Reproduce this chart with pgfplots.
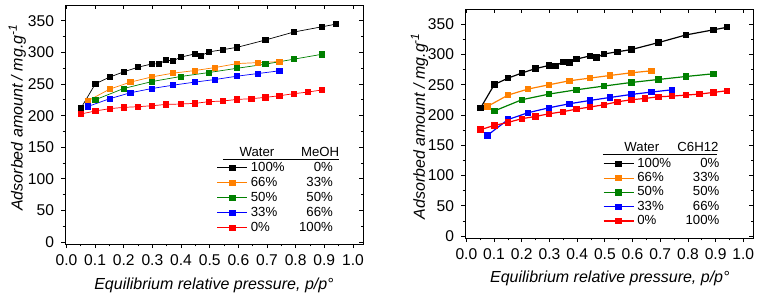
\documentclass[border=0pt]{standalone}
\usepackage{fontspec}
\setmainfont{Liberation Sans}
\usepackage{pgfplots}
\pgfplotsset{compat=1.18}
\definecolor{cblack}{RGB}{0,0,0}
\definecolor{corange}{RGB}{255,128,0}
\definecolor{cgreen}{RGB}{0,128,0}
\definecolor{cblue}{RGB}{0,0,255}
\definecolor{cred}{RGB}{255,0,0}
\pgfplotsset{
  base/.style={scale only axis, xmin=-0.005, xmax=1.035, ymin=-3, ymax=375,
    xtick={0,0.1,0.2,0.3,0.4,0.5,0.6,0.7,0.8,0.9,1.0},
    ytick={0,50,100,150,200,250,300,350},
    major tick length=2pt, minor tick length=1.2pt,
    tick style={line width=0.4pt, black},
    axis line style={line width=0.5pt}},
  main/.style={base, minor x tick num=1, minor y tick num=1,
    tick align=outside, xtick pos=left, ytick pos=left,
    ticklabel style={font=\fontsize{7.8}{9}\selectfont},
    /pgf/number format/assume math mode=true,
    xticklabel style={/pgf/number format/.cd, fixed, fixed zerofill, precision=1},
    label style={font=\fontsize{8}{9}\selectfont\itshape},
    legend style={draw=none, fill=none, inner sep=0pt, outer sep=0pt, row sep=0.6pt,
      font=\fontsize{6.6}{7}\selectfont,
      nodes={inner sep=0.4pt, text height=4.8pt, text depth=1.3pt},
      /tikz/every odd column/.append style={column sep=1.2pt}},
    legend cell align=left,
    legend image code/.code={\draw[mark repeat=2,mark phase=2] plot coordinates {(0pt,0pt)(7.5pt,0pt)(15pt,0pt)};}},
  mirror/.style={base, minor x tick num=0, minor y tick num=1,
    tick align=inside, xtick pos=right, ytick pos=right,
    xticklabels={}, yticklabels={}},
  s/.style={mark=square*, mark size=1.3pt, color=#1, mark options={solid, fill=#1, draw=#1}},
}
\newcommand{\ent}[2]{\makebox[19pt][l]{#1}\makebox[22pt][r]{#2}}
\begin{document}
\begin{tikzpicture}
\useasboundingbox (0,0) rectangle (380.5pt,148.5pt);
% ---------- left panel ----------
\begin{axis}[main, at={(32.5pt,26.5pt)}, anchor=south west, width=149pt, height=119.5pt,
  xlabel={Equilibrium relative pressure, p/p°},
  ylabel={Adsorbed amount / mg.g\textsuperscript{-1}},
  xlabel style={at={(axis description cs:0.5,-0.172)}, anchor=center},
  ylabel style={at={(axis description cs:-0.16,0.53)}, anchor=center},
  legend style={at={(axis description cs:0.51,0.348)}, anchor=north west},
  every axis plot/.append style={line width=0.35pt}]
\addplot[s=cblack] coordinates {(0.051,212.2)(0.101,250.4)(0.151,261.0)(0.200,269.3)(0.250,276.7)(0.299,281.9)(0.322,281.9)(0.348,287.7)(0.372,286.6)(0.398,292.4)(0.447,297.6)(0.470,295.0)(0.497,300.8)(0.546,304.4)(0.596,308.1)(0.694,319.6)(0.793,332.2)(0.892,340.6)(0.941,344.8)};
\addlegendentry{\ent{100\%}{0\%}}
\addplot[s=corange] coordinates {(0.076,223.7)(0.151,242.0)(0.223,253.0)(0.299,261.4)(0.372,267.2)(0.447,271.3)(0.519,276.1)(0.596,282.4)(0.668,283.9)(0.743,285.5)};
\addlegendentry{\ent{66\%}{33\%}}
\addplot[s=cgreen] coordinates {(0.101,225.2)(0.200,243.0)(0.299,254.0)(0.398,261.9)(0.497,268.2)(0.596,275.0)(0.694,281.4)(0.793,289.3)(0.892,297.1)};
\addlegendentry{\ent{50\%}{50\%}}
\addplot[s=cblue] coordinates {(0.076,214.7)(0.151,226.8)(0.223,236.2)(0.299,243.0)(0.372,248.2)(0.447,253.0)(0.519,257.2)(0.596,262.5)(0.668,266.6)(0.743,270.9)};
\addlegendentry{\ent{33\%}{66\%}}
\addplot[s=cred] coordinates {(0.051,202.7)(0.101,207.4)(0.151,211.1)(0.200,213.1)(0.250,214.2)(0.299,215.7)(0.348,217.8)(0.398,218.4)(0.447,219.4)(0.497,222.1)(0.546,223.2)(0.596,225.7)(0.645,226.8)(0.694,228.9)(0.743,231.5)(0.793,234.7)(0.842,237.3)(0.892,240.7)};
\addlegendentry{\ent{0\%}{100\%}}
\node[font=\fontsize{6.6}{7}\selectfont] at (axis description cs:0.644,0.386) {Water};
\node[font=\fontsize{6.6}{7}\selectfont] at (axis description cs:0.856,0.386) {MeOH};
\draw[line width=0.4pt] (axis description cs:0.53,0.356) -- (axis description cs:0.919,0.356);
\end{axis}
\begin{axis}[mirror, at={(32.5pt,26.5pt)}, anchor=south west, width=149pt, height=119.5pt]
\end{axis}
% ---------- right panel ----------
\begin{axis}[main, at={(232.5pt,29.5pt)}, anchor=south west, width=144pt, height=114.5pt,
  xlabel={Equilibrium relative pressure, p/p°},
  ylabel={Adsorbed amount / mg.g\textsuperscript{-1}},
  xlabel style={at={(axis description cs:0.503,-0.178)}, anchor=center},
  ylabel style={at={(axis description cs:-0.158,0.49)}, anchor=center},
  legend style={at={(axis description cs:0.479,0.354)}, anchor=north west, row sep=0.25pt},
  every axis plot/.append style={line width=0.6pt}]
\addplot[s=cblack] coordinates {(0.051,211.5)(0.101,250.4)(0.151,261.0)(0.200,269.3)(0.250,276.7)(0.299,281.9)(0.322,281.0)(0.348,287.7)(0.372,286.6)(0.398,292.4)(0.447,297.6)(0.470,295.0)(0.497,300.8)(0.546,304.4)(0.596,308.1)(0.694,319.6)(0.793,332.2)(0.892,340.6)(0.941,344.8)};
\addlegendentry{\ent{100\%}{0\%}}
\addplot[s=corange] coordinates {(0.076,214.2)(0.151,233.0)(0.223,242.9)(0.299,250.0)(0.372,256.5)(0.447,261.0)(0.519,265.3)(0.596,269.7)(0.668,273.0)};
\addlegendentry{\ent{66\%}{33\%}}
\addplot[s=cgreen] coordinates {(0.101,206.7)(0.200,225.2)(0.299,234.6)(0.398,241.7)(0.497,247.8)(0.596,253.8)(0.694,258.7)(0.793,263.6)(0.892,268.1)};
\addlegendentry{\ent{50\%}{50\%}}
\addplot[s=cblue] coordinates {(0.076,166.5)(0.151,192.7)(0.223,203.8)(0.299,212.0)(0.372,218.6)(0.447,224.1)(0.519,229.0)(0.596,234.0)(0.668,237.9)(0.743,241.7)};
\addlegendentry{\ent{33\%}{66\%}}
\addplot[s=cred] coordinates {(0.051,175.8)(0.101,182.9)(0.151,187.9)(0.200,193.9)(0.250,197.7)(0.299,202.1)(0.348,205.4)(0.398,209.8)(0.447,213.2)(0.497,217.0)(0.546,221.9)(0.596,225.2)(0.645,227.4)(0.694,230.1)(0.743,231.2)(0.793,232.9)(0.842,234.6)(0.892,237.3)(0.941,240.1)};
\addlegendentry{\ent{0\%}{100\%}}
\node[font=\fontsize{6.6}{7}\selectfont] at (axis description cs:0.614,0.399) {Water};
\node[font=\fontsize{6.6}{7}\selectfont] at (axis description cs:0.809,0.399) {C6H12};
\draw[line width=0.4pt] (axis description cs:0.479,0.367) -- (axis description cs:0.875,0.367);
\end{axis}
\begin{axis}[mirror, at={(232.5pt,29.5pt)}, anchor=south west, width=144pt, height=114.5pt]
\end{axis}
\end{tikzpicture}
\end{document}
